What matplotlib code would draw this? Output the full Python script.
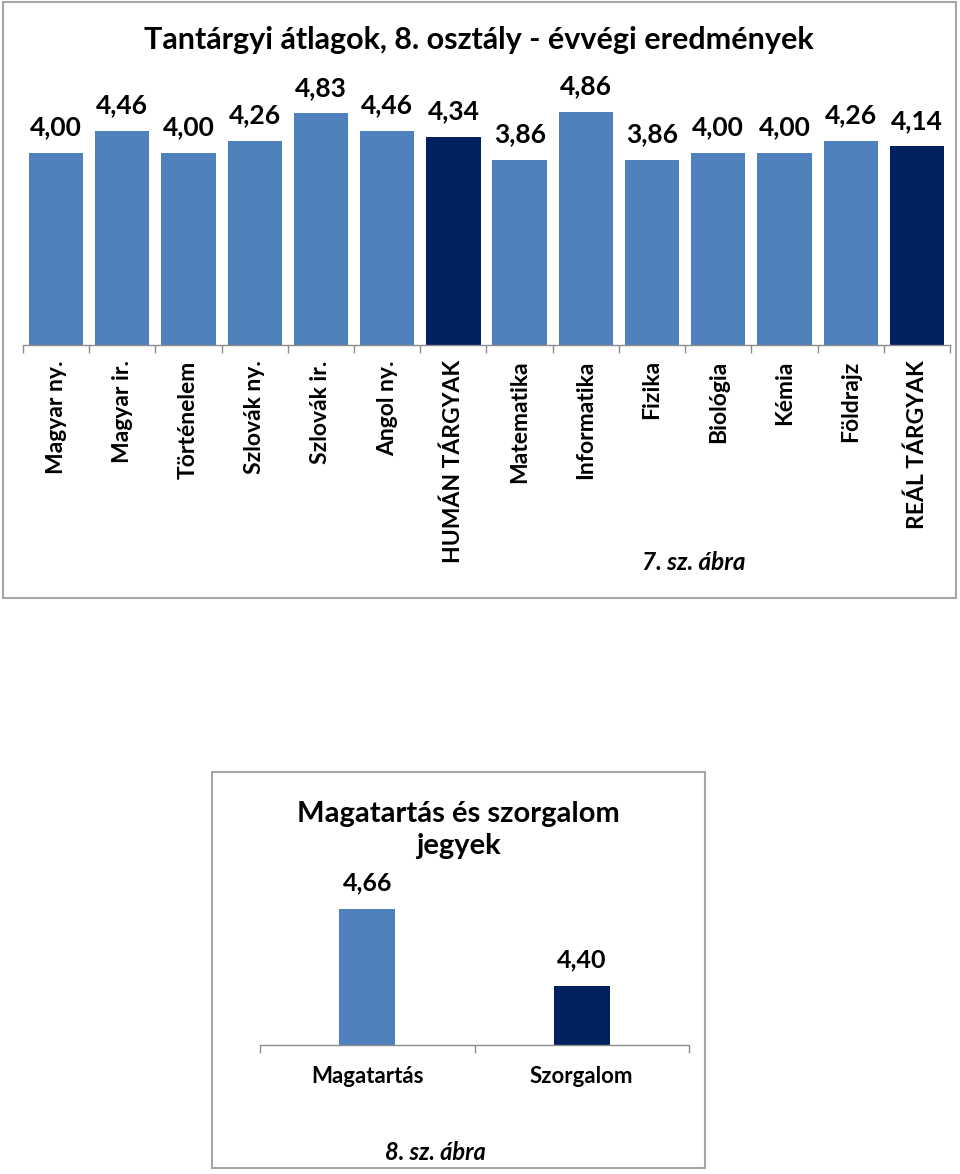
import matplotlib
matplotlib.use("Agg")
import matplotlib.pyplot as plt
from matplotlib.patches import Rectangle

# data
subjects = ["Magyar ny.", "Magyar ir.", "Történelem", "Szlovák ny.", "Szlovák ir.",
            "Angol ny.", "HUMÁN TÁRGYAK", "Matematika", "Informatika", "Fizika",
            "Biológia", "Kémia", "Földrajz", "REÁL TÁRGYAK"]
averages = [4.00, 4.46, 4.00, 4.26, 4.83, 4.46, 4.34, 3.86, 4.86, 3.86, 4.00, 4.00, 4.26, 4.14]
summary = ["HUMÁN TÁRGYAK", "REÁL TÁRGYAK"]

conduct_labels = ["Magatartás", "Szorgalom"]
conduct_values = [4.66, 4.40]

LIGHT = "#4F81BD"
DARK = "#002060"
GRAY = "#8C8C8C"

plt.rcParams["font.family"] = ["Lato", "DejaVu Sans"]
plt.rcParams["font.weight"] = "bold"

W, H = 960, 1174
fig = plt.figure(figsize=(W / 100, H / 100), dpi=100)


def box(x0, y0, x1, y1):
    # pixel box (top-left origin) -> figure fraction
    return [x0 / W, 1 - y1 / H, (x1 - x0) / W, (y1 - y0) / H]


def fx(x):
    return x / W


def fy(y):
    return 1 - y / H


# frames around the two charts
for x0, y0, x1, y1 in [(3, 2, 956, 598), (212, 772, 705, 1168)]:
    fig.patches.append(Rectangle((fx(x0), fy(y1)), fx(x1) - fx(x0), fy(y0) - fy(y1),
                                 transform=fig.transFigure, fill=False,
                                 edgecolor="#A6A6A6", linewidth=1.5))


def style_axis(ax, n):
    for s in ["top", "right", "left"]:
        ax.spines[s].set_visible(False)
    ax.spines["bottom"].set_color(GRAY)
    ax.spines["bottom"].set_linewidth(1)
    ax.set_yticks([])
    ax.set_xlim(-0.5, n - 0.5)
    ax.set_xticks(range(n))
    ax.tick_params(axis="x", which="major", length=0)
    ax.set_xticks([i - 0.5 for i in range(n + 1)], minor=True)
    ax.tick_params(axis="x", which="minor", length=5.5, color=GRAY, width=1)
    ax.set_facecolor("none")


# chart 1
ax1 = fig.add_axes(box(23, 57, 950, 345))
colors = [DARK if s in summary else LIGHT for s in subjects]
bars = ax1.bar(range(len(subjects)), averages, width=0.82, color=colors)
ax1.set_ylim(0, 6)
style_axis(ax1, len(subjects))
ax1.set_xticklabels(subjects, rotation=90, va="top", ha="center", fontsize=16.5,
                    fontweight="bold")
ax1.tick_params(axis="x", which="major", pad=11)
for b, v in zip(bars, averages):
    ax1.annotate(f"{v:.2f}".replace(".", ","), (b.get_x() + b.get_width() / 2, v),
                 xytext=(0, 12.5), textcoords="offset points", ha="center",
                 va="baseline", fontsize=19, fontweight="bold")

fig.text(fx(479), fy(40), "Tantárgyi átlagok, 8. osztály - évvégi eredmények",
         ha="center", va="center", fontsize=22, fontweight="bold")
fig.text(fx(694), fy(563), "7. sz. ábra", ha="center", va="center", fontsize=17.5,
         fontweight="bold", style="italic")

# chart 2
ax2 = fig.add_axes(box(260, 897, 689, 1045))
bars2 = ax2.bar(range(len(conduct_labels)), conduct_values, width=0.26,
                color=[LIGHT, DARK])
ax2.set_ylim(4.2, 4.7)
style_axis(ax2, len(conduct_labels))
ax2.set_xticklabels(conduct_labels, fontsize=16, fontweight="bold")
ax2.tick_params(axis="x", which="major", pad=15)
for b, v in zip(bars2, conduct_values):
    ax2.annotate(f"{v:.2f}".replace(".", ","), (b.get_x() + b.get_width() / 2, v),
                 xytext=(0, 13), textcoords="offset points", ha="center",
                 va="baseline", fontsize=18, fontweight="bold")

fig.text(fx(458), fy(830), "Magatartás és szorgalom\njegyek", ha="center",
         va="center", fontsize=21, fontweight="bold", linespacing=1.25)
fig.text(fx(435), fy(1153), "8. sz. ábra", ha="center", va="center", fontsize=17,
         fontweight="bold", style="italic")

fig.savefig("out.png", dpi=100, facecolor="white")
